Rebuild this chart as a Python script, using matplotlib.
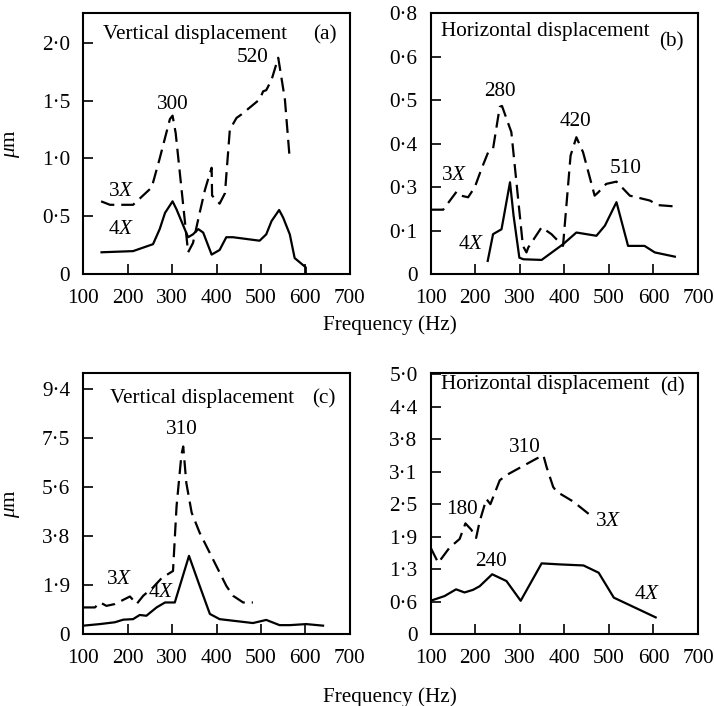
import numpy as np
import matplotlib.pyplot as plt

plt.rcParams['font.family'] = 'Liberation Serif'
plt.rcParams['mathtext.fontset'] = 'custom'
plt.rcParams['mathtext.rm'] = 'Liberation Serif'
plt.rcParams['mathtext.it'] = 'Liberation Serif:italic'
plt.rcParams['font.size'] = 15.3
plt.rcParams['lines.scale_dashes'] = False

# frequencies (Hz) and amplitudes
freq_ticks = [100, 200, 300, 400, 500, 600, 700]

# (a) vertical displacement, first set
a3_f = [140, 160, 194, 212, 254, 272, 295, 301, 308, 336, 347, 362, 374, 381, 389, 390, 407, 419, 430, 445, 456, 497, 505, 512, 524, 539, 554, 565]
a3_v = [0.63, 0.60, 0.60, 0.60, 0.75, 1.00, 1.34, 1.37, 1.22, 0.19, 0.27, 0.53, 0.73, 0.82, 0.92, 0.68, 0.61, 0.70, 1.25, 1.35, 1.38, 1.51, 1.58, 1.59, 1.68, 1.87, 1.51, 0.99]
a4_f = [141, 212, 257, 272, 284, 301, 310, 336, 347, 359, 370, 389, 407, 422, 437, 497, 512, 524, 541, 550, 565, 576, 601, 601]
a4_v = [0.19, 0.20, 0.26, 0.39, 0.53, 0.63, 0.56, 0.32, 0.345, 0.39, 0.36, 0.17, 0.21, 0.32, 0.32, 0.29, 0.345, 0.46, 0.555, 0.49, 0.345, 0.14, 0.06, 0.0]
a_yticks = [0, 0.5, 1.0, 1.5, 2.0]
a_ylabels = ['0', '0·5', '1·0', '1·5', '2·0']

# (b) horizontal displacement, first set (axis units, ticks equally spaced)
b3_f = [100, 128, 158, 168, 184, 199, 214, 229, 240, 255, 260, 277, 281, 307, 315, 319, 349, 371, 397, 414, 427, 442, 468, 476, 494, 517, 547, 592, 610, 648]
b3_v = [0.198, 0.198, 0.253, 0.241, 0.236, 0.267, 0.323, 0.374, 0.385, 0.513, 0.516, 0.451, 0.436, 0.087, 0.067, 0.082, 0.144, 0.123, 0.087, 0.364, 0.42, 0.374, 0.241, 0.251, 0.277, 0.284, 0.241, 0.226, 0.212, 0.208]
b4_f = [228, 240, 259, 278, 286, 299, 308, 349, 397, 427, 472, 491, 517, 543, 580, 603, 648]
b4_v = [0.041, 0.123, 0.138, 0.282, 0.18, 0.051, 0.046, 0.044, 0.092, 0.128, 0.118, 0.149, 0.221, 0.087, 0.087, 0.067, 0.054]
b_ylabels = ['0', '0·1', '0·3', '0·4', '0·5', '0·6', '0·8']

# (c) vertical displacement, second set
c3_f = [100, 126, 138, 152, 171, 205, 220, 235, 257, 280, 287, 302, 310, 321, 325, 332, 344, 362, 392, 422, 437, 460, 482]
c3_v = [1.02, 1.02, 1.21, 1.08, 1.15, 1.44, 1.15, 1.47, 1.79, 2.21, 2.26, 2.42, 4.91, 6.89, 7.2, 5.80, 4.66, 3.89, 2.87, 1.85, 1.47, 1.21, 1.21]
c4_f = [100, 137, 171, 190, 212, 227, 242, 265, 284, 306, 338, 362, 385, 407, 437, 482, 512, 542, 565, 602, 640]
c4_v = [0.32, 0.38, 0.45, 0.55, 0.57, 0.73, 0.70, 1.02, 1.21, 1.21, 3.0, 1.85, 0.77, 0.57, 0.51, 0.42, 0.54, 0.34, 0.34, 0.38, 0.32]
c_ylabels = ['0', '1·9', '3·8', '5·6', '7·5', '9·4']

# (d) horizontal displacement, second set
d3_f = [100, 117, 142, 165, 178, 191, 202, 210, 225, 234, 255, 270, 338, 353, 360, 375, 383, 420, 458]
d3_v = [1.66, 1.37, 1.66, 1.83, 2.13, 2.01, 1.85, 2.17, 2.60, 2.50, 2.96, 3.06, 3.38, 3.44, 3.22, 2.83, 2.74, 2.55, 2.29]
d4_f = [100, 131, 157, 176, 195, 210, 238, 270, 302, 349, 390, 443, 477, 511, 605]
d4_v = [0.64, 0.73, 0.86, 0.80, 0.85, 0.92, 1.15, 1.02, 0.64, 1.36, 1.34, 1.32, 1.18, 0.70, 0.32]
d_ylabels = ['0', '0·6', '1·3', '1·9', '2·5', '3·1', '3·8', '4·4', '5·0']


def setup(ax, ymax, yticks, ylabels):
	ax.set_xlim(100, 700)
	ax.set_ylim(0, ymax)
	ax.set_xticks(freq_ticks)
	ax.set_yticks(yticks)
	ax.set_yticklabels(ylabels)
	ax.tick_params(direction='in', length=7, width=1.2)
	ax.tick_params(axis='x', pad=10.5)
	ax.tick_params(axis='y', pad=9.5)
	for s in ax.spines.values():
		s.set_linewidth(1.5)


def curves(ax, f3, v3, f4, v4):
	ax.plot(f3, v3, color='black', lw=1.6, dashes=(10, 5))
	ax.plot(f4, v4, color='black', lw=1.6)


fig = plt.figure(figsize=(7.14, 7.06), dpi=100)
ax_a = fig.add_axes([0.1167, 0.6115, 0.3731, 0.3697])
ax_b = fig.add_axes([0.6032, 0.6115, 0.3744, 0.3697])
ax_c = fig.add_axes([0.1167, 0.1020, 0.3731, 0.3692])
ax_d = fig.add_axes([0.6032, 0.1020, 0.3744, 0.3692])

# (a)
curves(ax_a, a3_f, a3_v, a4_f, a4_v)
setup(ax_a, 2.254, a_yticks, a_ylabels)
ax_a.text(145, 2.07, 'Vertical displacement', va='center')
ax_a.text(644, 2.07, '(a)', ha='center', va='center')
ax_a.text(302, 1.466, '300', ha='center', va='center')
ax_a.text(482, 1.87, '520', ha='center', va='center')
ax_a.text(186, 0.718, '3$X$', ha='center', va='center')
ax_a.text(186, 0.388, '4$X$', ha='center', va='center')

# (b)
curves(ax_b, b3_f, b3_v, b4_f, b4_v)
setup(ax_b, 0.8, np.linspace(0, 0.8, 7), b_ylabels)
ax_b.text(123, 0.744, 'Horizontal displacement', va='center')
ax_b.text(641, 0.713, '(b)', ha='center', va='center')
ax_b.text(255, 0.559, '280', ha='center', va='center')
ax_b.text(424, 0.467, '420', ha='center', va='center')
ax_b.text(537, 0.323, '510', ha='center', va='center')
ax_b.text(153, 0.303, '3$X$', ha='center', va='center')
ax_b.text(191, 0.092, '4$X$', ha='center', va='center')

# (c)
curves(ax_c, c3_f, c3_v, c4_f, c4_v)
setup(ax_c, 10.01, np.linspace(0, 9.4, 6), c_ylabels)
ax_c.text(160, 9.06, 'Vertical displacement', va='center')
ax_c.text(641, 9.02, '(c)', ha='center', va='center')
ax_c.text(321, 7.84, '310', ha='center', va='center')
ax_c.text(180, 2.10, '3$X$', ha='center', va='center')
ax_c.text(276, 1.59, '4$X$', ha='center', va='center')

# (d)
curves(ax_d, d3_f, d3_v, d4_f, d4_v)
setup(ax_d, 5.02, np.linspace(0, 5.0, 9), d_ylabels)
ax_d.text(123, 4.81, 'Horizontal displacement', va='center')
ax_d.text(642, 4.76, '(d)', ha='center', va='center')
ax_d.text(170, 2.39, '180', ha='center', va='center')
ax_d.text(311, 3.60, '310', ha='center', va='center')
ax_d.text(236, 1.40, '240', ha='center', va='center')
ax_d.text(499, 2.17, '3$X$', ha='center', va='center')
ax_d.text(586, 0.76, '4$X$', ha='center', va='center')

# shared labels
fig.text(13 / 714, 1 - 144 / 706, r'$\mu$m', rotation=90, ha='center', va='center')
fig.text(13 / 714, 1 - 504 / 706, r'$\mu$m', rotation=90, ha='center', va='center')
fig.text(390 / 714, 1 - 325 / 706, 'Frequency (Hz)', ha='center', va='center')
fig.text(390 / 714, 1 - 697 / 706, 'Frequency (Hz)', ha='center', va='center')

fig.savefig('out.png', dpi=100)
